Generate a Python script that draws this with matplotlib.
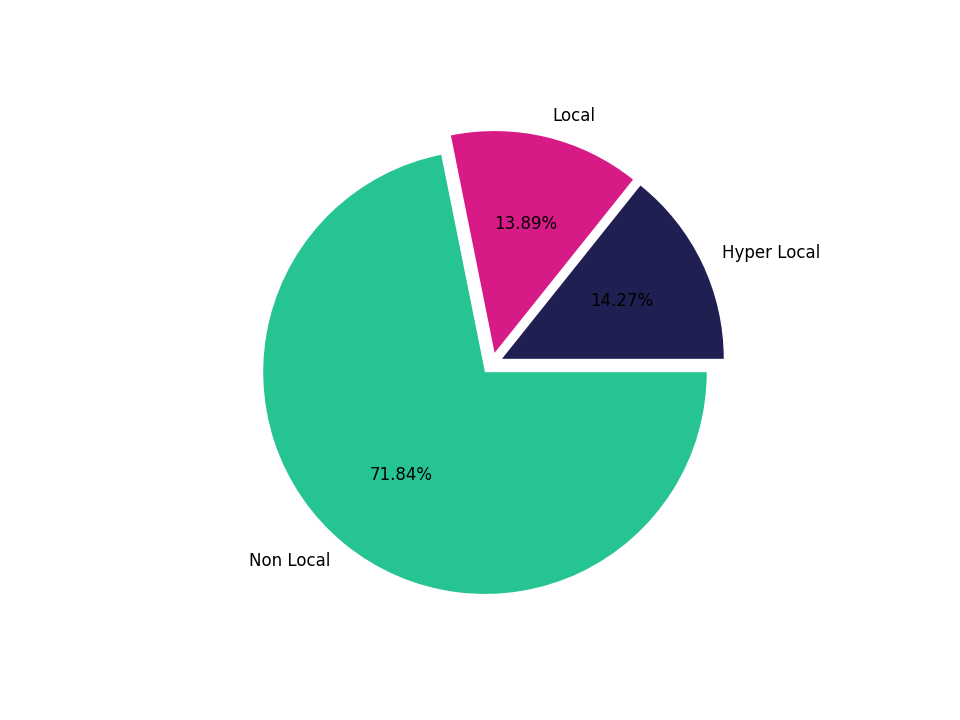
import matplotlib
matplotlib.use('Agg')
import matplotlib.pyplot as plt

# share of audience by locality
labels = ['Hyper Local', 'Local', 'Non Local']
shares = [14.27, 13.89, 71.84]
colors = ['#1f1f51', '#d81a87', '#26c493']
explode = [0.05, 0.05, 0.05]

plt.rcParams['font.size'] = 12

fig, ax = plt.subplots(figsize=(9.6, 7.2), dpi=100)
ax.pie(shares, labels=labels, colors=colors, explode=explode, autopct='%.2f%%')

plt.savefig('out.png')
